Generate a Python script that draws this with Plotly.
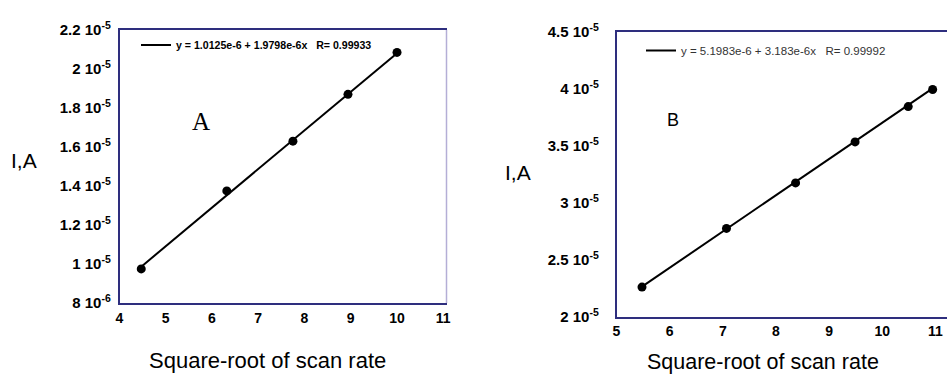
import plotly.graph_objects as go

# ---- data ----
a_x = [4.47, 6.32, 7.75, 8.94, 10.0]
a_y = [9.75e-6, 13.75e-6, 16.3e-6, 18.7e-6, 20.85e-6]
a_fit = [1.0125e-6, 1.9798e-6]   # intercept, slope
a_r = "0.99933"

b_x = [5.48, 7.07, 8.37, 9.49, 10.49, 10.95]
b_y = [22.6e-6, 27.75e-6, 31.75e-6, 35.35e-6, 38.45e-6, 39.95e-6]
b_fit = [5.1983e-6, 3.183e-6]
b_r = "0.99992"

a_xticks = [4, 5, 6, 7, 8, 9, 10, 11]
a_yticks = [8e-6, 1e-5, 1.2e-5, 1.4e-5, 1.6e-5, 1.8e-5, 2e-5, 2.2e-5]
a_yticktext = ["8 10<sup>-6</sup>", "1 10<sup>-5</sup>", "1.2 10<sup>-5</sup>", "1.4 10<sup>-5</sup>",
               "1.6 10<sup>-5</sup>", "1.8 10<sup>-5</sup>", "2 10<sup>-5</sup>", "2.2 10<sup>-5</sup>"]
b_xticks = [5, 6, 7, 8, 9, 10, 11]
b_yticks = [2e-5, 2.5e-5, 3e-5, 3.5e-5, 4e-5, 4.5e-5]
b_yticktext = ["2 10<sup>-5</sup>", "2.5 10<sup>-5</sup>", "3 10<sup>-5</sup>",
               "3.5 10<sup>-5</sup>", "4 10<sup>-5</sup>", "4.5 10<sup>-5</sup>"]

W, H = 947, 374
SANS = "Arial, Liberation Sans, sans-serif"
NAVY = "#2e2e7e"

def fx(px):
    return px / W

def fy(py):
    return 1 - py / H

def fmt(v, d):
    return f"{v:.{d}e}".replace("e-06", "e-6")

fig = go.Figure()

# panel A
fa_x = [min(a_x), max(a_x)]
fa_y = [a_fit[0] + a_fit[1] * v for v in fa_x]
fig.add_trace(go.Scatter(x=fa_x, y=fa_y, mode="lines", line=dict(color="black", width=2),
                         name=f"y = {fmt(a_fit[0], 4)} + {fmt(a_fit[1], 4)}x   R= {a_r}",
                         xaxis="x", yaxis="y", legend="legend"))
fig.add_trace(go.Scatter(x=a_x, y=a_y, mode="markers", marker=dict(color="black", size=9),
                         showlegend=False, xaxis="x", yaxis="y"))

# panel B
fb_x = [min(b_x), max(b_x)]
fb_y = [b_fit[0] + b_fit[1] * v for v in fb_x]
fig.add_trace(go.Scatter(x=fb_x, y=fb_y, mode="lines", line=dict(color="black", width=2),
                         name=f"y = {fmt(b_fit[0], 4)} + {fmt(b_fit[1], 3)}x   R= {b_r}",
                         xaxis="x2", yaxis="y2", legend="legend2"))
fig.add_trace(go.Scatter(x=b_x, y=b_y, mode="markers", marker=dict(color="black", size=9),
                         showlegend=False, xaxis="x2", yaxis="y2"))

xtickfont = dict(family=SANS, size=14, color="black", weight="bold")
ytickfont = dict(family=SANS, size=15, color="black", weight="bold")

def ann(text, px, py, size, family=SANS):
    return dict(text=text, x=fx(px), y=fy(py), xref="paper", yref="paper", showarrow=False,
                xanchor="center", yanchor="middle",
                font=dict(family=family, size=size, color="black"))

fig.update_layout(
    width=W, height=H,
    margin=dict(l=0, r=0, t=0, b=0, autoexpand=False),
    paper_bgcolor="white", plot_bgcolor="white",
    xaxis=dict(domain=[fx(119.5), fx(446.5)], range=[4, 11.07], tickvals=a_xticks,
               showgrid=False, zeroline=False, showline=True, linecolor=NAVY, linewidth=1.5,
               mirror=True, ticks="", tickfont=xtickfont, ticklabelstandoff=1, anchor="y",
               automargin=False),
    yaxis=dict(domain=[fy(303), fy(30)], range=[8e-6, 2.2e-5], tickvals=a_yticks,
               ticktext=a_yticktext, showgrid=False, zeroline=False, showline=True,
               linecolor=NAVY, linewidth=1.5, ticks="", tickfont=ytickfont,
               ticklabelstandoff=4, anchor="x", automargin=False),
    xaxis2=dict(domain=[fx(616.5), 1.0], range=[5, 11.22], tickvals=b_xticks,
                showgrid=False, zeroline=False, showline=True, linecolor=NAVY, linewidth=1.5,
                mirror=True, ticks="", tickfont=xtickfont, ticklabelstandoff=1, anchor="y2",
                automargin=False),
    yaxis2=dict(domain=[fy(316.7), fy(32)], range=[2e-5, 4.5e-5], tickvals=b_yticks,
                ticktext=b_yticktext, showgrid=False, zeroline=False, showline=True,
                linecolor=NAVY, linewidth=1.5, ticks="", tickfont=ytickfont,
                ticklabelstandoff=13, anchor="x2", automargin=False),
    legend=dict(x=fx(136), y=fy(45), xanchor="left", yanchor="middle",
                bgcolor="rgba(0,0,0,0)", borderwidth=0,
                font=dict(family=SANS, size=10.6, color="black", weight="bold")),
    legend2=dict(x=fx(641), y=fy(50.5), xanchor="left", yanchor="middle",
                 bgcolor="rgba(0,0,0,0)", borderwidth=0,
                 font=dict(family=SANS, size=11.5, color="#333333")),
    shapes=[dict(type="line", xref="x domain", yref="y domain", x0=1, x1=1, y0=0, y1=1,
                 line=dict(color="#b4aed6", width=1.5))],
    annotations=[
        ann("A", 200.5, 121.5, 25, "Times New Roman, Liberation Serif, serif"),
        ann("B", 673, 119.5, 18),
        ann("I,A", 23.5, 161, 21),
        ann("I,A", 518, 172, 21),
        ann("Square-root of scan rate", 267, 360, 22),
        ann("Square-root of scan rate", 763, 362, 21.5),
    ],
)

fig.write_html("out.html", post_script="document.body.style.margin='0';",
               config={"displayModeBar": False})
